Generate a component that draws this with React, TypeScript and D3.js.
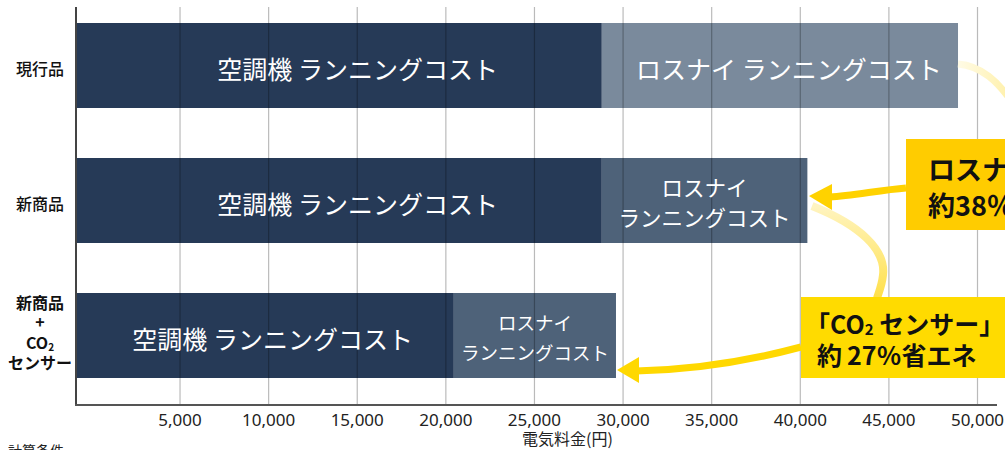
import React from "react";
import * as d3 from "d3";

const categories = ["現行品", "新商品", "新商品+CO2センサー"];
const acCost = [28800, 28800, 20450];
const lossnayCost = [20100, 11600, 9150];
const xTicks = [5000, 10000, 15000, 20000, 25000, 30000, 35000, 40000, 45000, 50000];
const acLabel = "空調機 ランニングコスト";
const lossnayLabel = "ロスナイ ランニングコスト";
const axisTitle = "電気料金(円)";
const callout1 = ["ロスナイで", "約38％省エネ"];
const callout2b = "約\u200927％省エネ";

const W = 1005;
const H = 450;
const FONT = "'Noto Sans CJK JP', 'Noto Sans', sans-serif";

export default function App() {
  const x = d3.scaleLinear().domain([-870, 51100]).range([76, 997]);
  const y = d3.scaleBand<number>().domain([0, 1, 2]).range([23, 378]).paddingInner(50 / 135).paddingOuter(0);
  const bw = y.bandwidth();
  const x0 = x.domain()[0];
  const lossColors = ["#7a8a9c", "#4e6279", "#4e6279"];
  const fmt = d3.format(",");

  const arrow1 = "M906,188 C880,190 852,196 830,197";
  const arrow2 = "M801,347 C745,362 690,370 636,371";
  const fade1 = "M958,64 C982,66 998,82 1012,102";
  const fade2 = "M812,206 C860,225 886,250 883,275 C882,285 879,292 877,298";

  return (
    <svg width={W} height={H} style={{ position: "absolute", left: 0, top: 0, fontFamily: FONT }}>
      <defs>
        <linearGradient id="fadeG2" x1="0" y1="0" x2="0" y2="1">
          <stop offset="0%" stopColor="#fff4c0" />
          <stop offset="100%" stopColor="#ffe04a" />
        </linearGradient>
        <linearGradient id="fadeG1" x1="0" y1="0" x2="1" y2="0">
          <stop offset="0%" stopColor="#fffbe6" />
          <stop offset="100%" stopColor="#fff0a8" />
        </linearGradient>
      </defs>
      <rect width={W} height={H} fill="#ffffff" />

      {/* bars */}
      {categories.map((c, i) => {
        const yy = y(i)!;
        const xa = x(acCost[i]);
        const xt = x(acCost[i] + lossnayCost[i]);
        return (
          <g key={c}>
            <rect x={x(x0)} y={yy} width={xa - x(x0)} height={bw} fill="#263a57" />
            <rect x={xa} y={yy} width={xt - xa} height={bw} fill={lossColors[i]} />
          </g>
        );
      })}

      {/* gridlines */}
      {xTicks.map((t) => (
        <line key={t} x1={x(t)} x2={x(t)} y1={7} y2={405} stroke="#000" strokeOpacity={0.27} strokeWidth={1.2} />
      ))}

      {/* bar labels */}
      {categories.map((c, i) => {
        const yy = y(i)! + bw / 2 + 2;
        const xa = x(acCost[i]);
        const xt = x(acCost[i] + lossnayCost[i]);
        const acMid = (x(0) + xa) / 2 + (i < 2 ? 11 : 0);
        const lMid = (xa + xt) / 2 + (i === 0 ? 9 : 0);
        const parts = lossnayLabel.split(" ");
        const lfs = i === 1 ? 21.5 : 18.5;
        const lgap = 30;
        return (
          <g key={"l" + c} fill="#ffffff" textAnchor="middle" dominantBaseline="central">
            <text x={acMid} y={yy} fontSize={25}>{acLabel}</text>
            {i === 0 ? (
              <text x={lMid} y={yy} fontSize={25}>{lossnayLabel}</text>
            ) : (
              <>
                <text x={lMid} y={yy - lgap / 2 - 1} fontSize={lfs}>{parts[0]}</text>
                <text x={lMid} y={yy + lgap / 2 - 1} fontSize={lfs}>{parts[1]}</text>
              </>
            )}
          </g>
        );
      })}

      {/* axes */}
      <line x1={76} x2={76} y1={7} y2={406} stroke="#444" strokeWidth={2} />
      <line x1={75} x2={997} y1={405} y2={405} stroke="#555" strokeWidth={2} />
      {xTicks.map((t) => (
        <text key={"t" + t} x={x(t)} y={426} fontSize={17} textAnchor="middle" fill="#222" fontFamily="'Noto Sans', sans-serif">
          {fmt(t)}
        </text>
      ))}
      <text x={522} y={445} fontSize={16} fill="#222">{axisTitle}</text>
      <text x={8} y={456} fontSize={14} fill="#222">計算条件</text>

      {/* category labels */}
      <g textAnchor="middle" fill="#111" dominantBaseline="central">
        <text x={40} y={y(0)! + bw / 2 + 2} fontSize={16} fontWeight={500}>{categories[0]}</text>
        <text x={40} y={y(1)! + bw / 2 + 2} fontSize={16} fontWeight={500}>{categories[1]}</text>
        <g fontWeight={700} fontSize={16}>
          <text x={40} y={302}>{categories[2].split("+")[0]}</text>
          <text x={40} y={321}>+</text>
          <text x={40} y={342}>
            CO<tspan fontSize={10} dy={4}>2</tspan>
          </text>
          <text x={40} y={362}>{categories[2].split("2")[1]}</text>
        </g>
      </g>

      {/* faded flow curves */}
      <path d={fade1} fill="none" stroke="url(#fadeG1)" strokeWidth={7} />
      <path d={fade2} fill="none" stroke="url(#fadeG2)" strokeWidth={8} />

      {/* arrows */}
      <path d={arrow1} fill="none" stroke="#ffd200" strokeWidth={7} />
      <polygon points="809,196 832,184 832,210" fill="#ffd200" />
      <path d={arrow2} fill="none" stroke="#ffd800" strokeWidth={7} />
      <polygon points="617,370 639,357 639,383" fill="#ffd800" />

      {/* callout boxes */}
      <rect x={906} y={139} width={120} height={91} fill="#ffcc00" />
      <g fontSize={27} fontWeight={700} fill="#111" dominantBaseline="central">
        <text x={928} y={168}>{callout1[0]}</text>
        <text x={928} y={204}>{callout1[1]}</text>
      </g>
      <rect x={801} y={297} width={220} height={81} fill="#ffdb00" />
      <g fontSize={25} fontWeight={700} fill="#111" dominantBaseline="central">
        <text x={805} y={323}>
          「CO<tspan fontSize={15} dy={5}>2</tspan>
          <tspan dy={-5}> センサー」</tspan>
        </text>
        <text x={817} y={354}>{callout2b}</text>
      </g>
    </svg>
  );
}
